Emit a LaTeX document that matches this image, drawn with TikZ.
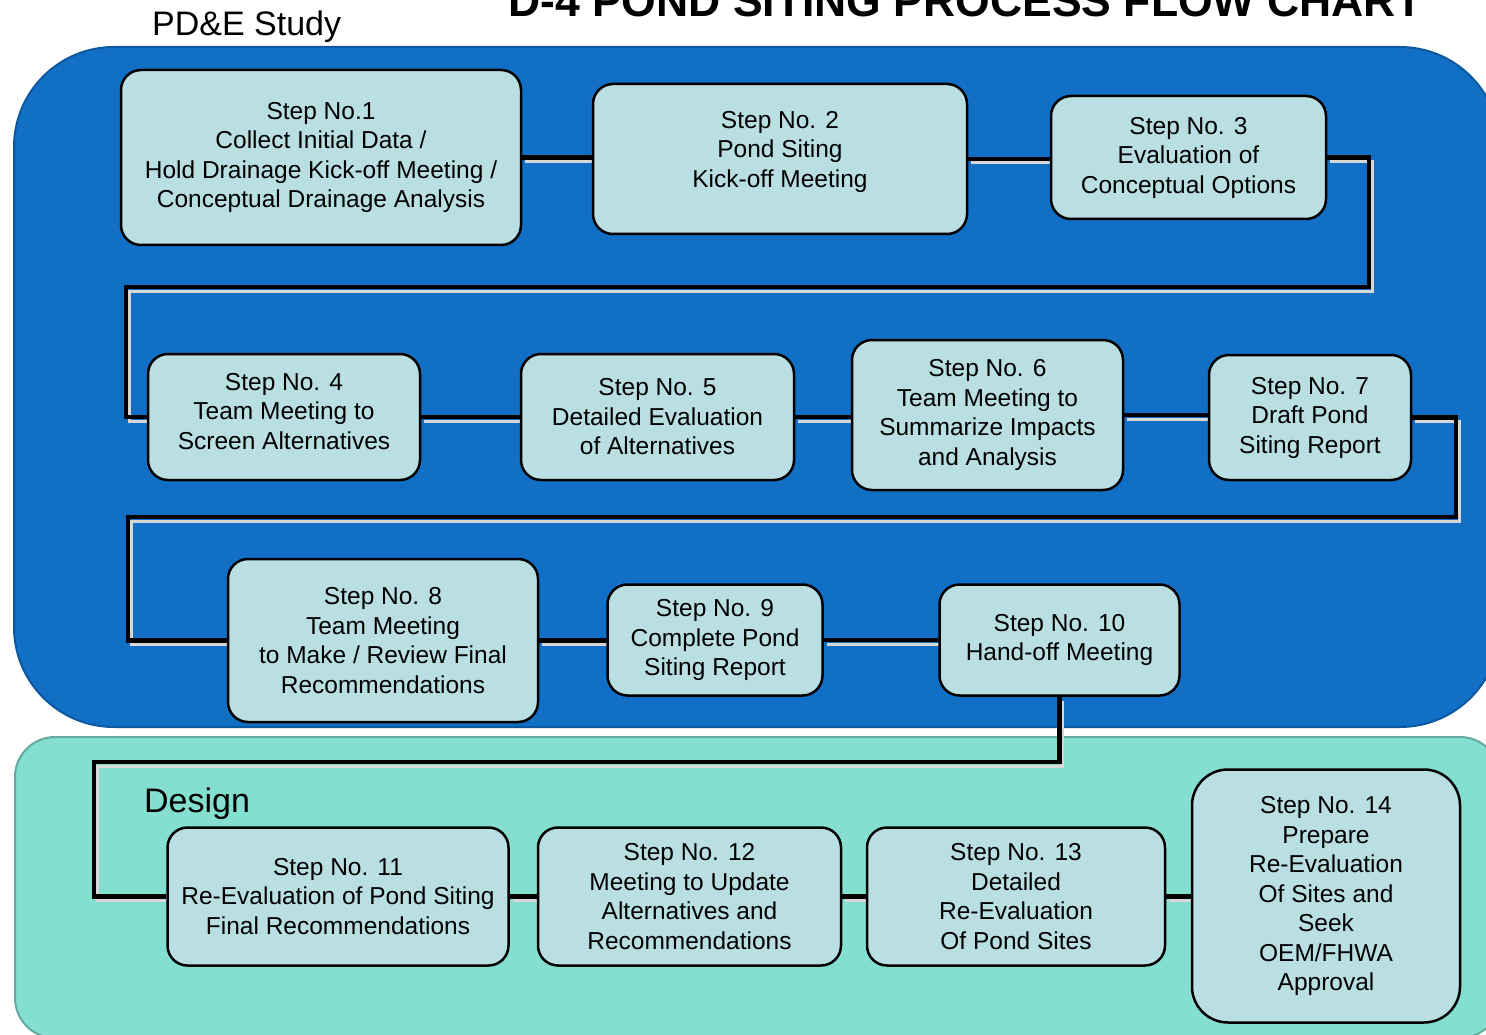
\documentclass[tikz,border=0pt]{standalone}
\usepackage{fontspec}
\setmainfont{Liberation Sans}
\definecolor{bluebg}{RGB}{17,111,197}
\definecolor{blueedge}{RGB}{14,88,160}
\definecolor{tealbg}{RGB}{132,223,208}
\definecolor{tealedge}{RGB}{100,170,158}
\definecolor{boxfill}{RGB}{186,223,227}
\definecolor{lightline}{RGB}{215,215,215}
\begin{document}
\begin{tikzpicture}[x=1pt,y=-1pt,
  stepbox/.style={draw=black, line width=2.5pt, fill=boxfill, rounded corners=20pt,
    align=center, inner sep=0pt, font=\fontsize{24.5}{29.5}\selectfont},
  conn/.style={line width=4.5pt, draw=black},
  connlight/.style={line width=3pt, draw=lightline, transform canvas={shift={(3,4)}}},
  region/.style={line width=2pt}]
\useasboundingbox (0,0) rectangle (1486,1035);
\clip (0,0) rectangle (1486,1035);
% regions
\draw[region, fill=bluebg, draw=blueedge, rounded corners=100pt] (14,47) rectangle (1500,727);
\draw[region, fill=tealbg, draw=tealedge, rounded corners=40pt] (15,737) rectangle (1500,1038);
% titles
\node[anchor=base west, inner sep=0pt, font=\bfseries\fontsize{44.5}{50}\selectfont] (title) at (508,17) {D-4 POND SITING PROCESS FLOW CHART};
\node[anchor=base west, inner sep=0pt, font=\fontsize{34}{40}\selectfont] (pde) at (152,36) {PD\&E Study};
\node[anchor=base west, inner sep=0pt, font=\fontsize{34}{40}\selectfont] (design) at (144,812) {Design};
% connector bend points
\coordinate (k3a) at (1369,287);
\coordinate (k3b) at (126,287);
\coordinate (k7a) at (1456,517);
\coordinate (k7b) at (128,517);
\coordinate (k10) at (94,762);
% steps (drawn first as invisible to get anchors)
\path
  node[stepbox, draw=none, fill=none, minimum width=400, minimum height=175] (s1) at (321,157.5) {}
  node[stepbox, draw=none, fill=none, minimum width=374, minimum height=150] (s2) at (780,159) {}
  node[stepbox, draw=none, fill=none, minimum width=275, minimum height=123] (s3) at (1188.5,157.5) {}
  node[stepbox, draw=none, fill=none, minimum width=272, minimum height=126] (s4) at (284,417) {}
  node[stepbox, draw=none, fill=none, minimum width=273, minimum height=126] (s5) at (657.5,417) {}
  node[stepbox, draw=none, fill=none, minimum width=271, minimum height=150] (s6) at (987.5,415) {}
  node[stepbox, draw=none, fill=none, minimum width=202, minimum height=125] (s7) at (1310,417.5) {}
  node[stepbox, draw=none, fill=none, minimum width=310, minimum height=163] (s8) at (383,640.5) {}
  node[stepbox, draw=none, fill=none, minimum width=215, minimum height=111] (s9) at (715,640) {}
  node[stepbox, draw=none, fill=none, minimum width=240, minimum height=111] (s10) at (1059.5,640) {}
  node[stepbox, draw=none, fill=none, minimum width=341, minimum height=138] (s11) at (338,896.5) {}
  node[stepbox, draw=none, fill=none, minimum width=303, minimum height=138] (s12) at (689.5,896.5) {}
  node[stepbox, draw=none, fill=none, minimum width=298, minimum height=138] (s13) at (1016,896.5) {}
  node[stepbox, draw=none, fill=none, minimum width=268, minimum height=253, rounded corners=36pt] (s14) at (1326,896) {};
% connectors
\foreach \a/\b in {s1/s2,s2/s3,s4/s5,s5/s6,s6/s7,s8/s9,s9/s10,s11/s12,s12/s13,s13/s14}{
  \draw[connlight] (\a.east) -- (\a.east -| \b.west);
  \draw[conn] (\a.east) -- (\a.east -| \b.west);
}
\draw[connlight] (s3.east) -| (k3a) -- (k3b) |- (s4.west);
\draw[conn] (s3.east) -| (k3a) -- (k3b) |- (s4.west);
\draw[connlight] (s7.east) -| (k7a) -- (k7b) |- (s8.west);
\draw[conn] (s7.east) -| (k7a) -- (k7b) |- (s8.west);
\draw[connlight] (s10.south) |- (k10) |- (s11.west);
\draw[conn] (s10.south) |- (k10) |- (s11.west);
% visible boxes
\node[stepbox, minimum width=400, minimum height=175] (b1) at (s1) {Step No.1\\Collect Initial Data /\\Hold Drainage Kick-off Meeting /\\Conceptual Drainage Analysis};
\node[stepbox, minimum width=374, minimum height=150, text depth=20pt] (b2) at (s2) {Step No. 2\\Pond Siting\\Kick-off Meeting};
\node[stepbox, minimum width=275, minimum height=123] (b3) at (s3) {Step No. 3\\Evaluation of\\Conceptual Options};
\node[stepbox, minimum width=272, minimum height=126, text depth=12pt] (b4) at (s4) {Step No. 4\\Team Meeting to\\Screen Alternatives};
\node[stepbox, minimum width=273, minimum height=126] (b5) at (s5) {Step No. 5\\Detailed Evaluation\\of Alternatives};
\node[stepbox, minimum width=271, minimum height=150] (b6) at (s6) {Step No. 6\\Team Meeting to\\Summarize Impacts\\and Analysis};
\node[stepbox, minimum width=202, minimum height=125] (b7) at (s7) {Step No. 7\\Draft Pond\\Siting Report};
\node[stepbox, minimum width=310, minimum height=163] (b8) at (s8) {Step No. 8\\Team Meeting\\to Make / Review Final\\Recommendations};
\node[stepbox, minimum width=215, minimum height=111] (b9) at (s9) {Step No. 9\\Complete Pond\\Siting Report};
\node[stepbox, minimum width=240, minimum height=111] (b10) at (s10) {Step No. 10\\Hand-off Meeting};
\node[stepbox, minimum width=341, minimum height=138] (b11) at (s11) {Step No. 11\\Re-Evaluation of Pond Siting\\Final Recommendations};
\node[stepbox, minimum width=303, minimum height=138] (b12) at (s12) {Step No. 12\\Meeting to Update\\Alternatives and\\Recommendations};
\node[stepbox, minimum width=298, minimum height=138] (b13) at (s13) {Step No. 13\\Detailed\\Re-Evaluation\\Of Pond Sites};
\node[stepbox, minimum width=268, minimum height=253, rounded corners=36pt] (b14) at (s14) {Step No. 14\\Prepare\\Re-Evaluation\\Of Sites and\\Seek\\OEM/FHWA\\Approval};
\end{tikzpicture}
\end{document}
